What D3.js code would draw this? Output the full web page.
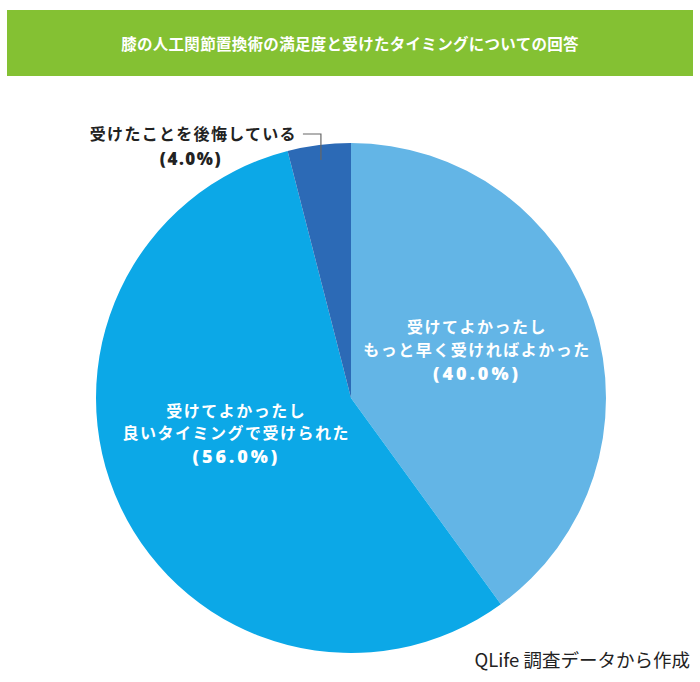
<!DOCTYPE html>
<html>
<head>
<meta charset="utf-8">
<script src="https://cdn.jsdelivr.net/npm/d3@7"></script>
<style>
  body { margin: 0; background: #fff; }
  svg { display: block; font-family: "Noto Sans CJK JP", "Noto Sans", sans-serif; }
  .pct { font-family: "Open Sans", "Noto Sans CJK JP", sans-serif; }
</style>
</head>
<body>
<div id="chart"></div>
<script>
// data
const title = '膝の人工関節置換術の満足度と受けたタイミングについての回答';
const source = 'QLife 調査データから作成';
const categories = [
  ['受けてよかったし', 'もっと早く受ければよかった'],
  ['受けてよかったし', '良いタイミングで受けられた'],
  ['受けたことを後悔している']
];
const values = [40.0, 56.0, 4.0];
const colors = ['#63b5e6', '#0ca8e7', '#2c6ab6'];
// label placement: [angle shift in degrees, radius]
const labelPos = [[-3, 135], [8, 120], [0, 0]];

const width = 700, height = 682;
const cx = 351, cy = 398, radius = 255;

const svg = d3.select('#chart').append('svg')
  .attr('width', width)
  .attr('height', height);

// header bar
svg.append('rect')
  .attr('x', 7).attr('y', 10)
  .attr('width', 686).attr('height', 66)
  .attr('fill', '#84c133');
svg.append('text')
  .attr('x', 350).attr('y', 50)
  .attr('text-anchor', 'middle')
  .attr('fill', '#fff')
  .attr('font-weight', 700)
  .attr('font-size', 15.5)
  .attr('letter-spacing', 0.3)
  .text(title);

const pie = d3.pie().sort(null).value(d => d);
const arcs = pie(values);
const arc = d3.arc().innerRadius(0).outerRadius(radius);

const g = svg.append('g').attr('transform', 'translate(' + cx + ',' + cy + ')');

g.selectAll('path.slice')
  .data(arcs)
  .enter().append('path')
  .attr('class', 'slice')
  .attr('fill', (d, i) => colors[i])
  .attr('d', arc);

const pctText = v => '(' + v.toFixed(1) + '%)';

// inner labels
arcs.forEach(function(d, i) {
  if (i === 2) return;
  const a = (d.startAngle + d.endAngle) / 2 + labelPos[i][0] * Math.PI / 180;
  const r = labelPos[i][1];
  const x = r * Math.sin(a), y = -r * Math.cos(a);
  const t = g.append('text')
    .attr('text-anchor', 'middle')
    .attr('fill', '#fff')
    .attr('font-weight', 700)
    .attr('font-size', 16)
    .attr('letter-spacing', 1.5);
  categories[i].forEach(function(s, k) {
    t.append('tspan')
      .attr('x', x)
      .attr('y', y + (k - 1) * 23 + 6)
      .text(s);
  });
  t.append('tspan')
    .attr('class', 'pct')
    .attr('x', x)
    .attr('y', y + 23 + 7)
    .attr('font-size', 18)
    .attr('font-weight', 800)
    .attr('letter-spacing', 3)
    .text(pctText(values[i]));
});

// outer label with leader line for the small slice
const small = arcs[2];
const ma = (small.startAngle + small.endAngle) / 2;
const p0 = [240 * Math.sin(ma), -240 * Math.cos(ma)];
const elbowY = -264;
g.append('polyline')
  .attr('points', [p0, [p0[0], elbowY], [p0[0] - 18, elbowY]].map(p => p.join(',')).join(' '))
  .attr('fill', 'none')
  .attr('stroke', '#666')
  .attr('stroke-width', 1.2);

const outer = g.append('text')
  .attr('font-weight', 700)
  .attr('font-size', 16)
  .attr('letter-spacing', 1.3)
  .attr('fill', '#222');
outer.append('tspan')
  .attr('x', p0[0] - 24).attr('y', elbowY + 6)
  .attr('text-anchor', 'end')
  .text(categories[2][0]);
outer.append('tspan')
  .attr('class', 'pct')
  .attr('x', p0[0] - 130).attr('y', elbowY + 31)
  .attr('text-anchor', 'middle')
  .attr('font-size', 17)
  .attr('font-weight', 800)
  .attr('letter-spacing', 1.5)
  .text(pctText(values[2]));

// source note
svg.append('text')
  .attr('x', 690).attr('y', 667)
  .attr('text-anchor', 'end')
  .attr('font-size', 18.5)
  .attr('fill', '#222')
  .text(source);
</script>
</body>
</html>
